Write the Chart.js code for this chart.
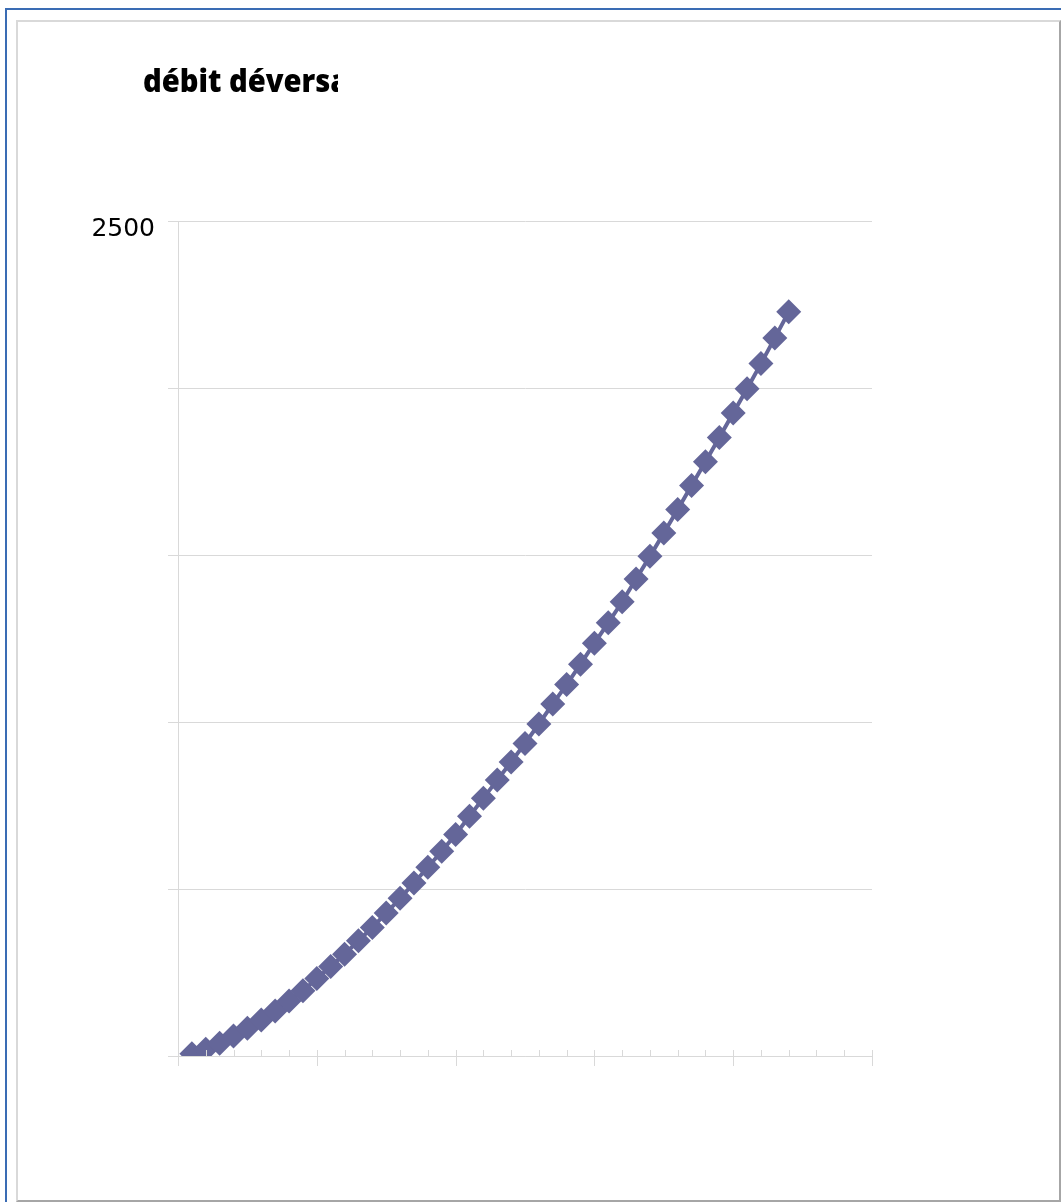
<!DOCTYPE html>
<html>
<head>
<meta charset="utf-8">
<script src="https://cdn.jsdelivr.net/npm/chart.js@4.4.0/dist/chart.umd.min.js"></script>
<style>
  body { margin: 0; background: #fff; overflow: hidden; }
  #wrap { position: relative; width: 1061px; height: 1202px; }
  .blueL { position: absolute; left: 5px; top: 8px; width: 2px; height: 1194px; background: #3a6cb4; }
  .blueT { position: absolute; left: 5px; top: 8px; width: 1056px; height: 2px; background: #3a6cb4; }
  .inner { position: absolute; left: 16px; top: 20px; width: 1041px; height: 1178px;
           border-left: 2px solid #d9d9d9; border-top: 2px solid #d9d9d9;
           border-right: 2px solid #a6a6a6; border-bottom: 2px solid #a6a6a6; }
  canvas { position: absolute; left: 0; top: 0; }
</style>
</head>
<body>
<div id="wrap">
  <div class="blueL"></div>
  <div class="blueT"></div>
  <div class="inner"></div>
  <canvas id="myChart"></canvas>
</div>
<script>
const titleText = "débit déversa";
const hauteur = [0.1, 0.2, 0.3, 0.4, 0.5, 0.6, 0.7, 0.8, 0.9, 1.0,
  1.1, 1.2, 1.3, 1.4, 1.5, 1.6, 1.7, 1.8, 1.9, 2.0,
  2.1, 2.2, 2.3, 2.4, 2.5, 2.6, 2.7, 2.8, 2.9, 3.0,
  3.1, 3.2, 3.3, 3.4, 3.5, 3.6, 3.7, 3.8, 3.9, 4.0,
  4.1, 4.2, 4.3, 4.4];
const debit = [7, 20, 38, 60, 83, 108, 135, 165, 195, 232,
  268, 305, 345, 385, 428, 472, 518, 565, 613, 663,
  718, 772, 826, 880, 936, 994, 1054, 1112, 1173, 1236,
  1297, 1360, 1428, 1496, 1566, 1636, 1708, 1779, 1852, 1925,
  1998, 2073, 2150, 2228];
const yTickShown = [2500];

const ctx = document.getElementById("myChart");

// titre dessiné à la main, coupé comme dans l'original
const titlePlugin = {
  id: "titreCoupe",
  afterDraw(chart) {
    const c = chart.ctx;
    c.save();
    c.beginPath();
    c.rect(0, 0, 338, 200);
    c.clip();
    c.font = "800 31px 'Open Sans'";
    c.fillStyle = "#000";
    c.textBaseline = "alphabetic";
    c.translate(143, 92);
    c.scale(0.94, 1);
    c.fillText(titleText, 0, 0);
    c.restore();
  },
};

// petites graduations de l'axe x
const xTicksPlugin = {
  id: "xTicks",
  afterDraw(chart) {
    const x = chart.scales.x;
    const c = chart.ctx;
    const bottom = chart.chartArea.bottom;
    c.save();
    c.strokeStyle = "#d9d9d9";
    c.lineWidth = 1;
    for (let i = 0; i <= 25; i++) {
      const px = Math.round(x.getPixelForValue(i * 0.2)) + 0.5;
      c.beginPath();
      c.moveTo(px, bottom - 6);
      c.lineTo(px, i % 5 === 0 ? bottom + 10 : bottom);
      c.stroke();
    }
    c.restore();
  },
};

new Chart(ctx, {
  type: "scatter",
  data: {
    datasets: [
      {
        label: titleText,
        data: hauteur.map((h, i) => ({ x: h, y: debit[i] })),
        showLine: true,
        borderColor: "#646699",
        borderWidth: 4,
        backgroundColor: "#646699",
        pointStyle: "rectRot",
        pointRadius: 12.5,
        pointBorderWidth: 0,
        pointBackgroundColor: "#646699",
      },
    ],
  },
  options: {
    responsive: true,
    maintainAspectRatio: false,
    animation: false,
    layout: { padding: { left: 0, right: 189, top: 221, bottom: 136 } },
    plugins: {
      legend: { display: false },
      title: { display: false },
      tooltip: { enabled: false },
    },
    scales: {
      x: {
        type: "linear",
        min: 0,
        max: 5,
        ticks: { display: false, stepSize: 1 },
        grid: { display: false },
        border: { display: true, color: "#d9d9d9" },
        afterFit: (s) => { s.height = 10; },
      },
      y: {
        min: 0,
        max: 2500,
        ticks: {
          stepSize: 500,
          padding: 13,
          labelOffset: 8,
          color: "#000",
          font: { family: "DejaVu Sans", size: 25 },
          callback: (v) => (yTickShown.includes(v) ? String(v) : ""),
        },
        grid: { color: "#d9d9d9", tickLength: 10 },
        border: { display: true, color: "#d9d9d9" },
        afterFit: (s) => { s.width = 178; },
      },
    },
  },
  plugins: [titlePlugin, xTicksPlugin],
});
</script>
</body>
</html>
